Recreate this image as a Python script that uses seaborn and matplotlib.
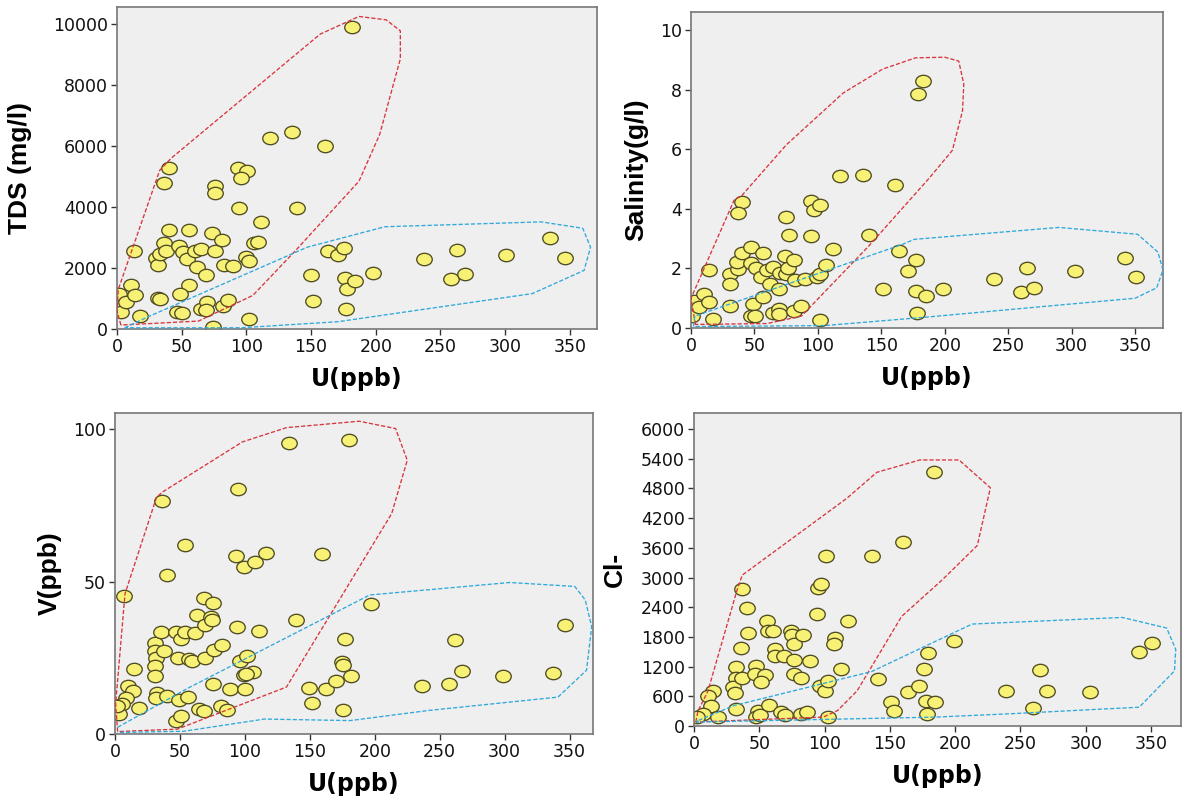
import matplotlib
matplotlib.use("Agg")
import matplotlib.pyplot as plt
from matplotlib.markers import MarkerStyle
from matplotlib.transforms import Affine2D
import pandas as pd
import seaborn as sns

sns.set_style("ticks")
plt.rcParams["font.family"] = ["DejaVu Sans"]

# ---------------- TDS vs U ----------------
tds_u = [1.5, 3, 6.6, 10.5, 14, 13.5, 18,
         31.5, 33, 30, 31.5, 33, 36, 37.5, 40.5, 36, 40,
         48, 51, 54, 56, 60, 61.5, 65, 69, 56, 48.6, 46.5, 50.4, 65, 69.6, 69, 74.4,
         76, 76, 73.5, 75.6, 81, 82.5, 89.4, 81.6, 86,
         94, 99.6, 102, 102, 106, 109, 111.6, 93.6, 100.5, 96, 118.5, 135, 161, 182,
         139.5, 150, 151.5, 163, 171, 175.5, 176, 178, 177, 183.6, 198,
         237.5, 258.5, 263, 269, 300.5, 335, 346]
tds_val = [1150, 550, 880, 1450, 1130, 2570, 430,
           1000, 980, 2320, 2100, 2450, 2820, 2540, 3240, 4790, 5275,
           2730, 2510, 2300, 3240, 2540, 2030, 2620, 1780, 1430, 1160, 560, 520, 670, 870, 620, 70,
           4680, 4440, 3140, 2540, 2920, 2110, 2060, 750, 965,
           3970, 2350, 2240, 340, 2820, 2840, 3510, 5275, 5190, 4950, 6270, 6450, 5980, 9900,
           3970, 1760, 930, 2570, 2430, 2660, 1670, 1320, 670, 1570, 1830,
           2300, 1650, 2590, 1790, 2440, 2980, 2340]
tds_red_u = [3, 0, 1, 33, 42, 157, 187, 208, 219, 219, 203, 187, 138, 105, 63, 3]
tds_red_y = [130, 600, 1300, 5200, 5600, 9660, 10240, 10130, 9770, 8850, 6370, 4840, 2570, 1100, 260, 130]
tds_blue_u = [6, 24, 147, 207, 328, 360, 366, 361, 321, 171, 96, 6]
tds_blue_y = [40, 400, 2680, 3350, 3510, 3300, 2680, 1920, 1160, 240, 40, 40]

# ---------------- Salinity vs U ----------------
sal_u = [13.8, 2, 0.6, 6.5, 10.3, 13.8, 17.6,
         40, 36.8, 31, 31, 37, 36, 40, 47, 47.6, 51.5, 56.5, 55, 60, 62, 64.4, 70, 69, 75, 74, 75, 77,
         76.5, 81.5, 82, 89.7,
         94.7, 96.8, 94.7, 101.5, 99, 102, 106.5, 112, 102,
         31, 49, 47.6, 50.6, 57, 64.4, 69, 69, 81.5, 86.5,
         117.5, 135.4, 161, 183, 179,
         140, 151, 164, 171, 177, 177.6, 178.5, 185, 199,
         239, 260, 265, 270, 302.6, 342, 350.6]
sal_val = [1.95, 0.9, 0.41, 0.69, 1.14, 0.86, 0.3,
           4.25, 3.88, 1.8, 1.48, 1.98, 2.22, 2.52, 2.72, 2.17, 2.01, 2.52, 1.73, 1.95, 1.48, 2.06, 1.86, 1.31, 1.82, 2.42, 3.74, 3.12,
           2.01, 2.3, 1.6, 1.64,
           4.28, 3.95, 3.1, 4.15, 1.73, 1.8, 2.12, 2.67, 0.28,
           0.75, 0.82, 0.42, 0.4, 1.04, 0.5, 0.63, 0.47, 0.56, 0.74,
           5.1, 5.15, 4.8, 8.3, 7.85,
           3.12, 1.31, 2.6, 1.9, 2.3, 1.25, 0.5, 1.08, 1.31,
           1.63, 1.2, 2.0, 1.33, 1.9, 2.35, 1.7]
sal_red_u = [3.5, 0, 34, 40, 75, 120, 151, 177, 200, 211, 215, 214, 206, 187, 140, 87, 60, 3.5]
sal_red_y = [0.12, 1.0, 4.3, 4.45, 6.15, 7.9, 8.7, 9.08, 9.1, 8.97, 8.2, 7.3, 5.97, 5.0, 2.75, 0.4, 0.15, 0.12]
sal_blue_u = [2, 3, 166, 176, 290, 352, 368, 372, 367, 350, 290, 184, 105, 2]
sal_blue_y = [0.05, 0.4, 2.8, 2.98, 3.38, 3.15, 2.55, 1.95, 1.35, 1.0, 0.77, 0.36, 0.08, 0.05]

# ---------------- V vs U ----------------
v_u = [7, 14.6, 10, 14, 8.7, 5.7, 2.7, 1.5, 18.5,
       31, 31, 31.4, 31, 30.5, 32, 31.4, 35.5, 38, 40.3,
       47, 48.4, 49, 47, 50.5, 50.8, 54, 56.7, 59.4, 56.4, 61.8, 63.3, 68.4, 69.3, 69.3, 64.8, 68.7,
       73.8, 74.4, 75.8, 76.1, 82.1, 75.8, 81.8, 86.3, 88.7,
       93.8, 96.1, 99, 100, 102, 106.6, 100.6, 111,
       139.4, 149.3, 151.4, 162.7, 170, 174.7, 175.3, 176.8, 175.9, 182, 197,
       236, 257.4, 261.9, 267, 299, 337, 346.4,
       35.8, 39.7, 54.2, 94.6, 92.8, 99.2, 107.4, 116.3, 133.7, 180, 159]
v_val = [45.2, 21.4, 15.9, 14.1, 11.9, 9.9, 6.6, 9.3, 8.6,
         29.7, 27.1, 25, 22.3, 19, 13.4, 11.9, 33.5, 27.1, 12.6,
         33.3, 25, 11.2, 4.4, 6, 31.3, 33.3, 24.5, 24, 12.1, 33, 39.2, 44.7, 35.9, 25, 8.2, 7.4,
         38.5, 37.4, 42.9, 27.5, 29.1, 16.5, 9.3, 8, 14.6,
         35.2, 23.8, 19.2, 14.6, 25.5, 20.5, 19.8, 33.7,
         37.4, 15, 10.2, 14.6, 17.4, 23.6, 22.5, 31, 7.9, 19, 42.6,
         15.7, 16.3, 30.8, 20.7, 18.9, 20.1, 35.7,
         76.3, 52.2, 62, 80.5, 58.5, 54.9, 56.4, 59.4, 95.5, 96.6, 58.9]
v_red_u = [2, 0.5, 7.7, 32, 37, 98, 132, 188, 216, 225, 213, 132, 48, 2]
v_red_y = [0.8, 10, 46, 77.7, 79.5, 95.8, 100.5, 102.6, 100.2, 89.8, 72.3, 15.4, 1.6, 0.8]
v_blue_u = [2, 56, 196, 304, 354, 362, 367, 363, 341, 241, 181, 115, 53, 2]
v_blue_y = [2.2, 15, 45.6, 49.7, 48.4, 44, 35.2, 20.9, 12.1, 7.7, 4.4, 4.9, 0.9, 0.5]

# ---------------- Cl- vs U ----------------
cl_u = [37, 40.6, 41.4, 35.7, 32, 32, 30, 31.4, 37, 32,
        14.3, 10.6, 13.4, 7, 2, 18.6,
        47.7, 47, 54.3, 51, 49, 47.7, 50.6, 55.7, 56.9, 60.6, 62, 62, 57.7, 66.3, 69, 69.7,
        74, 74.9, 76.3, 76.3, 76.3, 82, 83.4, 82, 86.3, 89, 94.3, 96.3, 100.6, 102.6, 102.6, 95, 97,
        107.7, 106.9, 112.9, 117.7, 100.8, 136.5, 160, 183.6,
        140.6, 151, 153, 164, 172, 176, 179, 177.7, 184.9, 178.3, 199,
        239, 260, 264.9, 270.6, 303.4, 341, 351]
cl_val = [2760, 2380, 1880, 1570, 1190, 980, 790, 660, 967, 347,
          713, 613, 413, 247, 180, 180,
          1213, 1047, 1027, 893, 313, 180, 213, 2127, 1927, 1927, 1560, 1413, 433, 293, 1413, 213,
          1927, 1847, 1660, 1333, 1047, 980, 1847, 247, 293, 1313, 2267, 813, 713, 913, 180, 2790, 2870,
          1780, 1667, 1147, 2127, 3444, 3431, 3716, 5126,
          947, 480, 313, 680, 813, 1147, 1480, 513, 480, 233, 1713,
          713, 360, 1127, 713, 680, 1500, 1680]
cl_red_u = [1.4, 3, 10.6, 33, 37, 117, 140, 173, 203, 227, 217, 190, 159, 125, 110, 99, 1.4]
cl_red_y = [80, 300, 700, 2750, 3050, 4600, 5126, 5376, 5376, 4814, 3648, 2950, 2214, 713, 313, 180, 80]
cl_blue_u = [3.4, 30.6, 136, 213, 328, 362, 369, 368, 341, 242, 185, 2, 3.4]
cl_blue_y = [113, 413, 1100, 2060, 2194, 1980, 1547, 1113, 380, 247, 180, 80, 113]

W, H = 1184, 798
fig = plt.figure(figsize=(W / 100, H / 100), dpi=100)


def box(left, top, right, bottom):
    return [left / W, 1 - bottom / H, (right - left) / W, (bottom - top) / H]


point_marker = MarkerStyle("o", transform=Affine2D().scale(1.0, 0.8))
FILL = "#f7f176"
EDGE = "#4f4b22"
RED = "#d8353c"
BLUE = "#2fa9dc"

panels = [
    dict(u=tds_u, y=tds_val, px=(117, 7, 597, 329), xlim=371, ylim=10550,
         yticks=[0, 2000, 4000, 6000, 8000, 10000], ylabel="TDS (mg/l)", ylab_x=20,
         red=(tds_red_u, tds_red_y), blue=(tds_blue_u, tds_blue_y)),
    dict(u=sal_u, y=sal_val, px=(691, 12, 1163, 328), xlim=372, ylim=10.62,
         yticks=[0, 2, 4, 6, 8, 10], ylabel="Salinity(g/l)", ylab_x=636,
         red=(sal_red_u, sal_red_y), blue=(sal_blue_u, sal_blue_y)),
    dict(u=v_u, y=v_val, px=(115, 413, 593, 734), xlim=368, ylim=105.3,
         yticks=[0, 50, 100], ylabel="V(ppb)", ylab_x=50,
         red=(v_red_u, v_red_y), blue=(v_blue_u, v_blue_y)),
    dict(u=cl_u, y=cl_val, px=(694, 413, 1181, 726), xlim=373, ylim=6325,
         yticks=list(range(0, 6001, 600)), ylabel="Cl-", ylab_x=615,
         red=(cl_red_u, cl_red_y), blue=(cl_blue_u, cl_blue_y)),
]

for p in panels:
    left, top, right, bottom = p["px"]
    ax = fig.add_axes(box(*p["px"]))
    ax.set_facecolor("#efefef")
    df = pd.DataFrame({"U": p["u"], "Y": p["y"]})
    sns.scatterplot(data=df, x="U", y="Y", ax=ax, marker=point_marker, s=125,
                    color=FILL, edgecolor=EDGE, linewidth=0.95, zorder=2, legend=False)
    ax.plot(p["red"][0], p["red"][1], color=RED, lw=0.95, ls=(0, (3.2, 1.5)), zorder=3)
    ax.plot(p["blue"][0], p["blue"][1], color=BLUE, lw=0.95, ls=(0, (3.2, 1.5)), zorder=3)

    ax.set_xlim(0, p["xlim"])
    ax.set_ylim(0, p["ylim"])
    ax.set_xticks([0, 50, 100, 150, 200, 250, 300, 350])
    ax.set_yticks(p["yticks"])
    ax.tick_params(direction="out", length=4.5, width=1.0, color="#333333",
                   labelsize=12.5, labelcolor="#111111", pad=2,
                   top=False, right=False)
    for side in ["left", "bottom", "top", "right"]:
        ax.spines[side].set_visible(True)
        ax.spines[side].set_color("#777777")
        ax.spines[side].set_linewidth(1.2)

    ax.set_xlabel("U(ppb)", fontsize=17, fontweight="bold", va="center", color="black")
    ax.xaxis.set_label_coords(0.5, -50 / (bottom - top))
    ax.set_ylabel(p["ylabel"], fontsize=19, fontweight="bold", va="center", color="black",
                  family=["Liberation Sans", "DejaVu Sans"])
    ax.yaxis.set_label_coords((p["ylab_x"] - left) / (right - left), 0.5)

fig.savefig("out.png", dpi=100, facecolor="white")
